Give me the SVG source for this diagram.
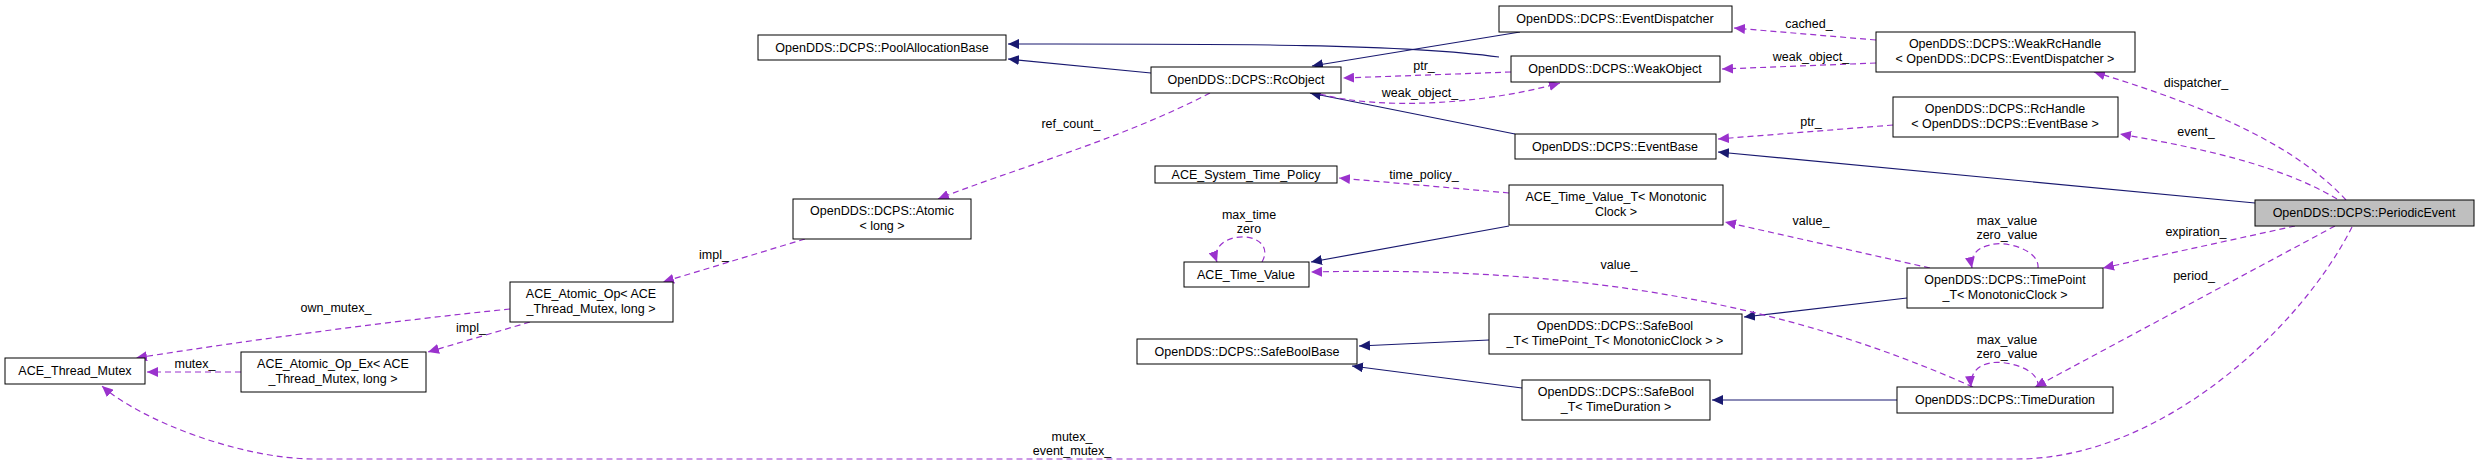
<svg xmlns="http://www.w3.org/2000/svg" width="2476" height="464" viewBox="0 0 2476 464">
<defs>
<marker id="ai" markerUnits="userSpaceOnUse" markerWidth="12" markerHeight="10" refX="11" refY="5" orient="auto"><path d="M0,0 L11,5 L0,10 Z" fill="#191970"/></marker>
<marker id="au" markerUnits="userSpaceOnUse" markerWidth="12" markerHeight="10" refX="11" refY="5" orient="auto"><path d="M0,0 L11,5 L0,10 Z" fill="#9a32cd"/></marker>
<style>
rect{fill:#fff;stroke:#000;stroke-width:1}
rect.main{fill:#bfbfbf}
text{font-family:"Liberation Sans",Arial,sans-serif;font-size:12.5px;fill:#000;text-anchor:middle}
.inh{fill:none;stroke:#191970;stroke-width:1.2;marker-end:url(#ai)}
.use{fill:none;stroke:#9a32cd;stroke-width:1.2;stroke-dasharray:6,4;marker-end:url(#au)}
</style>
</defs>
<g id="connectors">
<path class="inh" d="M1151,73 L1008,59"/>
<path class="inh" d="M1499,57 C1400,43 1200,44 1008,44"/>
<path class="inh" d="M1520,32 L1312,66"/>
<path class="inh" d="M1515,134 L1310,93"/>
<path class="inh" d="M2255,203 L1718,152"/>
<path class="inh" d="M1509,226 L1311,262"/>
<path class="inh" d="M1907,298 L1744,317"/>
<path class="inh" d="M1489,340 L1359,346"/>
<path class="inh" d="M1522,388 L1352,366"/>
<path class="inh" d="M1897,400 L1712,400"/>
<path class="use" d="M1876,40 L1734,28"/>
<path class="use" d="M1876,63 L1722,69"/>
<path class="use" d="M1511,72 L1343,78"/>
<path class="use" d="M1320,94 C1380,110 1480,105 1560,83"/>
<path class="use" d="M1210,93 C1120,140 1010,170 938,199"/>
<path class="use" d="M1893,125 L1718,139"/>
<path class="use" d="M2346,200 C2300,150 2220,110 2094,72"/>
<path class="use" d="M2337,199 C2280,165 2200,148 2120,134"/>
<path class="use" d="M1509,193 L1339,178"/>
<path class="use" d="M1930,268 L1725,222"/>
<path class="use" d="M2038,268 C2040,250 2005,240 1990,245 C1975,248 1970,258 1972,268"/>
<path class="use" d="M1973,387 C1800,310 1600,265 1311,272"/>
<path class="use" d="M2038,387 C2040,368 2005,360 1990,363 C1975,366 1970,376 1971,387"/>
<path class="use" d="M2295,226 L2103,268"/>
<path class="use" d="M2335,226 L2035,387"/>
<path class="use" d="M2352,227 C2300,330 2160,459 2017,459 L315,459 C240,459 140,420 102,386"/>
<path class="use" d="M1262,262 C1270,248 1260,238 1245,237 C1225,236 1212,248 1217,262"/>
<path class="use" d="M805,239 L663,282"/>
<path class="use" d="M530,322 L428,352"/>
<path class="use" d="M510,309 C400,320 250,340 136,358"/>
<path class="use" d="M241,372 L147,372"/>
</g>
<g id="labels">
<text x="1809" y="28">cached_</text>
<text x="1811" y="61">weak_object_</text>
<text x="1424" y="70">ptr_</text>
<text x="1420" y="97">weak_object_</text>
<text x="1071" y="128">ref_count_</text>
<text x="1811" y="126">ptr_</text>
<text x="1424" y="179">time_policy_</text>
<text x="1811" y="225">value_</text>
<text x="1249" y="219">max_time</text>
<text x="1249" y="233">zero</text>
<text x="714" y="259">impl_</text>
<text x="336" y="312">own_mutex_</text>
<text x="471" y="332">impl_</text>
<text x="195" y="368">mutex_</text>
<text x="1619" y="269">value_</text>
<text x="1072" y="441">mutex_</text>
<text x="1072" y="455">event_mutex_</text>
<text x="2196" y="87">dispatcher_</text>
<text x="2196" y="136">event_</text>
<text x="2196" y="236">expiration_</text>
<text x="2194" y="280">period_</text>
<text x="2007" y="225">max_value</text>
<text x="2007" y="239">zero_value</text>
<text x="2007" y="344">max_value</text>
<text x="2007" y="358">zero_value</text>
</g>
<g id="PoolAllocationBase"><rect x="758" y="35" width="248" height="25"/><text x="882" y="52">OpenDDS::DCPS::PoolAllocationBase</text></g>
<g id="EventDispatcher"><rect x="1499" y="6" width="233" height="26"/><text x="1615" y="23">OpenDDS::DCPS::EventDispatcher</text></g>
<g id="RcObject"><rect x="1151" y="67" width="190" height="26"/><text x="1246" y="84">OpenDDS::DCPS::RcObject</text></g>
<g id="WeakObject"><rect x="1511" y="56" width="209" height="26"/><text x="1615" y="73">OpenDDS::DCPS::WeakObject</text></g>
<g id="EventBase"><rect x="1515" y="134" width="201" height="25"/><text x="1615" y="151">OpenDDS::DCPS::EventBase</text></g>
<g id="WeakRcHandle"><rect x="1876" y="32" width="259" height="40"/><text x="2005" y="48">OpenDDS::DCPS::WeakRcHandle</text><text x="2005" y="63">&lt; OpenDDS::DCPS::EventDispatcher &gt;</text></g>
<g id="RcHandle"><rect x="1893" y="97" width="225" height="40"/><text x="2005" y="113">OpenDDS::DCPS::RcHandle</text><text x="2005" y="128">&lt; OpenDDS::DCPS::EventBase &gt;</text></g>
<g id="PeriodicEvent"><rect class="main" x="2255" y="200" width="219" height="26"/><text x="2364" y="217">OpenDDS::DCPS::PeriodicEvent</text></g>
<g id="ACE_System_Time_Policy"><rect x="1155" y="166" width="182" height="17"/><text x="1246" y="179">ACE_System_Time_Policy</text></g>
<g id="ACE_Time_Value_T"><rect x="1509" y="185" width="214" height="40"/><text x="1616" y="201">ACE_Time_Value_T&lt; Monotonic</text><text x="1616" y="216">Clock &gt;</text></g>
<g id="Atomic"><rect x="793" y="199" width="178" height="40"/><text x="882" y="215">OpenDDS::DCPS::Atomic</text><text x="882" y="230">&lt; long &gt;</text></g>
<g id="ACE_Time_Value"><rect x="1184" y="262" width="125" height="25"/><text x="1246" y="279">ACE_Time_Value</text></g>
<g id="ACE_Atomic_Op"><rect x="510" y="282" width="163" height="40"/><text x="591" y="298">ACE_Atomic_Op&lt; ACE</text><text x="591" y="313">_Thread_Mutex, long &gt;</text></g>
<g id="ACE_Atomic_Op_Ex"><rect x="241" y="352" width="185" height="40"/><text x="333" y="368">ACE_Atomic_Op_Ex&lt; ACE</text><text x="333" y="383">_Thread_Mutex, long &gt;</text></g>
<g id="ACE_Thread_Mutex"><rect x="5" y="358" width="140" height="26"/><text x="75" y="375">ACE_Thread_Mutex</text></g>
<g id="SafeBoolBase"><rect x="1137" y="339" width="220" height="25"/><text x="1247" y="356">OpenDDS::DCPS::SafeBoolBase</text></g>
<g id="SafeBool_TP"><rect x="1489" y="314" width="253" height="40"/><text x="1615" y="330">OpenDDS::DCPS::SafeBool</text><text x="1615" y="345">_T&lt; TimePoint_T&lt; MonotonicClock &gt; &gt;</text></g>
<g id="SafeBool_TD"><rect x="1522" y="380" width="188" height="40"/><text x="1616" y="396">OpenDDS::DCPS::SafeBool</text><text x="1616" y="411">_T&lt; TimeDuration &gt;</text></g>
<g id="TimePoint_T"><rect x="1907" y="268" width="196" height="40"/><text x="2005" y="284">OpenDDS::DCPS::TimePoint</text><text x="2005" y="299">_T&lt; MonotonicClock &gt;</text></g>
<g id="TimeDuration"><rect x="1897" y="387" width="216" height="26"/><text x="2005" y="404">OpenDDS::DCPS::TimeDuration</text></g>
</svg>
